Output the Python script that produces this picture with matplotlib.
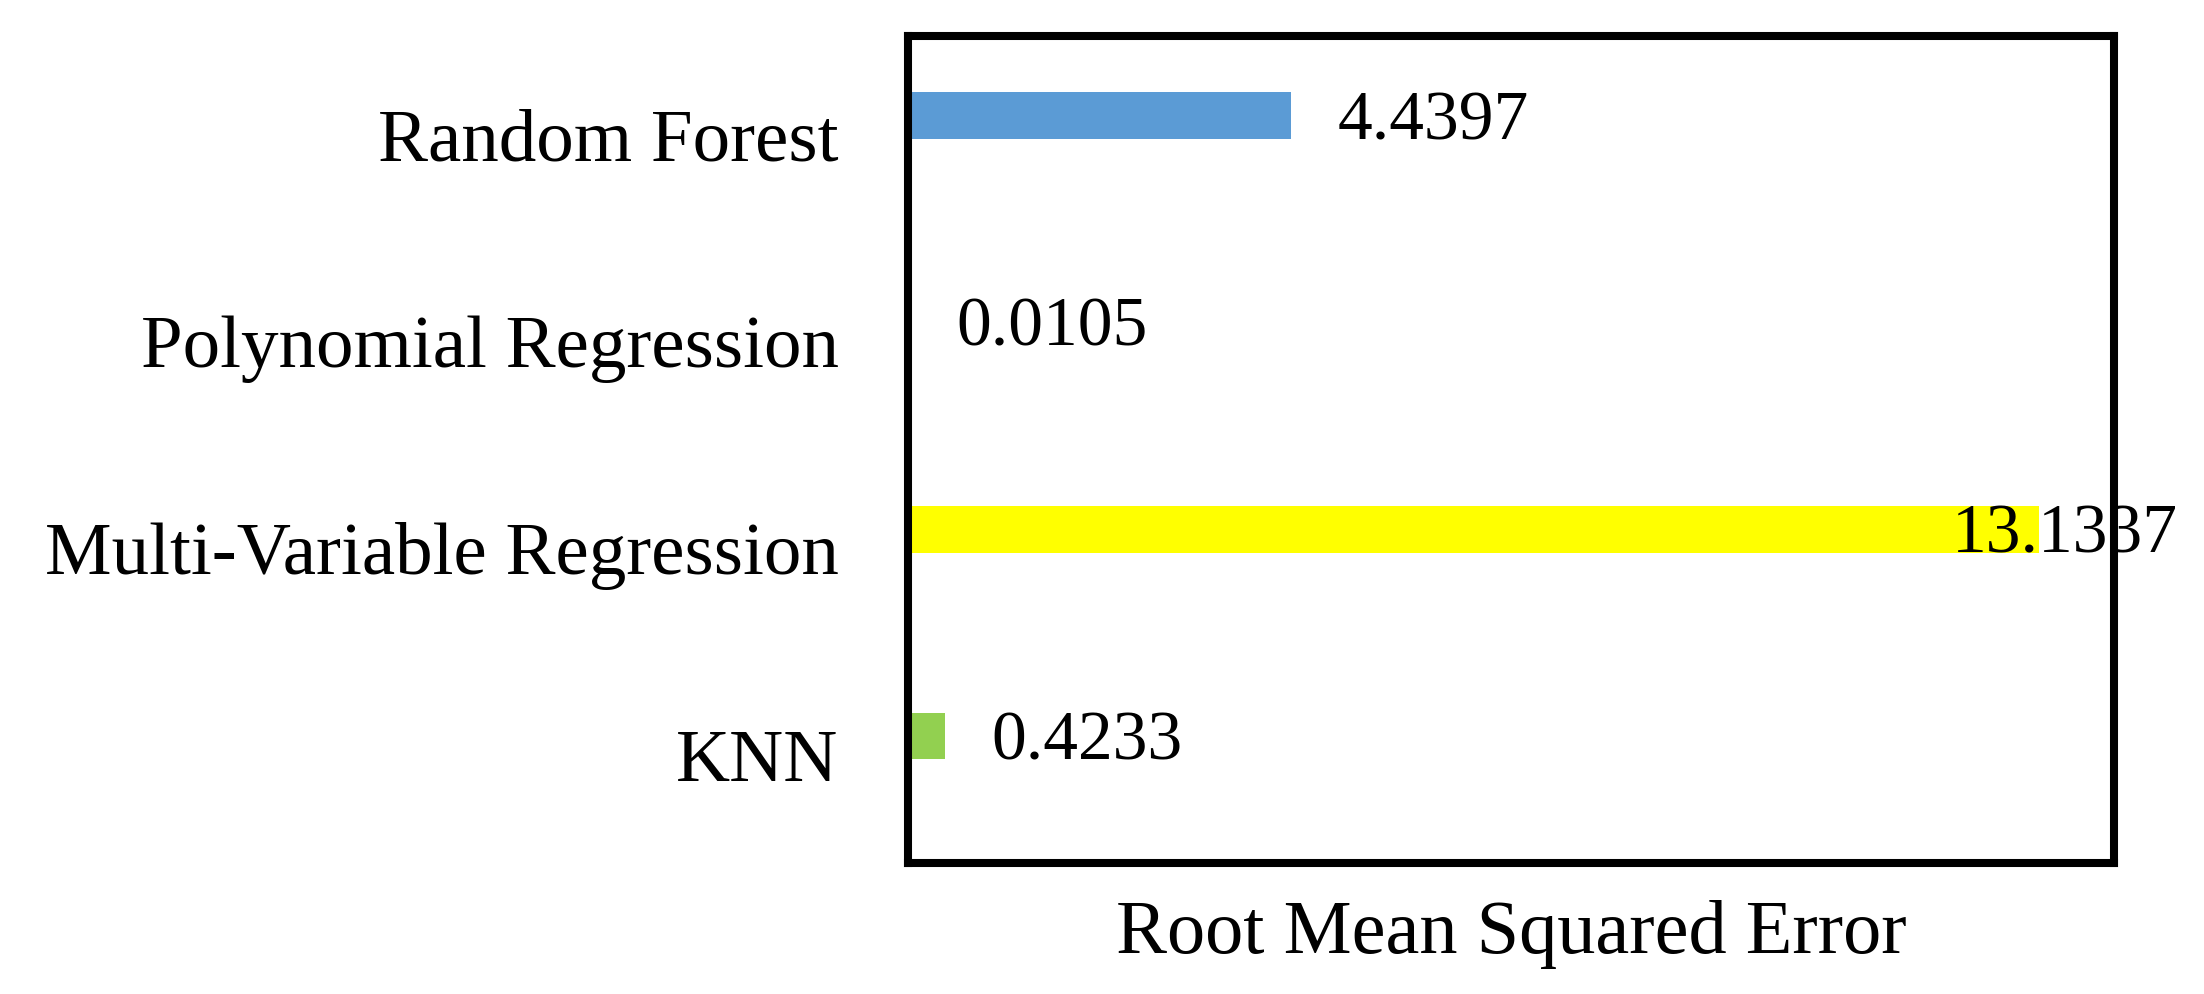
import matplotlib
matplotlib.use("Agg")
import matplotlib.pyplot as plt
import matplotlib.transforms as mtransforms

# data, top to bottom as shown
models = ["Random Forest", "Polynomial Regression", "Multi-Variable Regression", "KNN"]
rmse = [4.4397, 0.0105, 13.1337, 0.4233]
bar_colors = ["#5B9BD5", "#ED7D31", "#FFFF00", "#92D050"]
value_labels = ["4.4397", "0.0105", "13.1337", "0.4233"]

plt.rcParams["font.family"] = ["Liberation Serif", "DejaVu Serif"]

fig = plt.figure(figsize=(22.04, 9.95), dpi=100)
ax = fig.add_axes([0.412, 0.1317, 0.5472, 0.8312])

ypos = list(range(len(models)))[::-1]
ax.barh(ypos, rmse, height=0.227, color=bar_colors, zorder=1)

ax.set_xlim(0, 14)
ax.set_ylim(-0.614, 3.386)

for y, v, lab in zip(ypos, rmse, value_labels):
    # the longest bar gets its label pulled back inside, like the original
    dx = -63 if v > 12 else 34
    ax.annotate(lab, xy=(v, y), xytext=(dx, -4), textcoords="offset points",
                ha="left", va="center", fontsize=50, zorder=3,
                annotation_clip=False)

ax.set_yticks(ypos)
ax.set_yticklabels(models, fontsize=54)
ax.tick_params(axis="y", length=0, pad=50)
# category names sit a bit below the bar centres in the original
shift = mtransforms.ScaledTranslation(0, -0.18, fig.dpi_scale_trans)
for t in ax.get_yticklabels():
    t.set_transform(t.get_transform() + shift)

ax.set_xticks([])
ax.set_xlabel("Root Mean Squared Error", fontsize=55, labelpad=26)

for sp in ax.spines.values():
    sp.set_linewidth(5.8)
    sp.set_color("black")
    sp.set_zorder(2)

fig.savefig("out.png", dpi=100)
plt.close(fig)
